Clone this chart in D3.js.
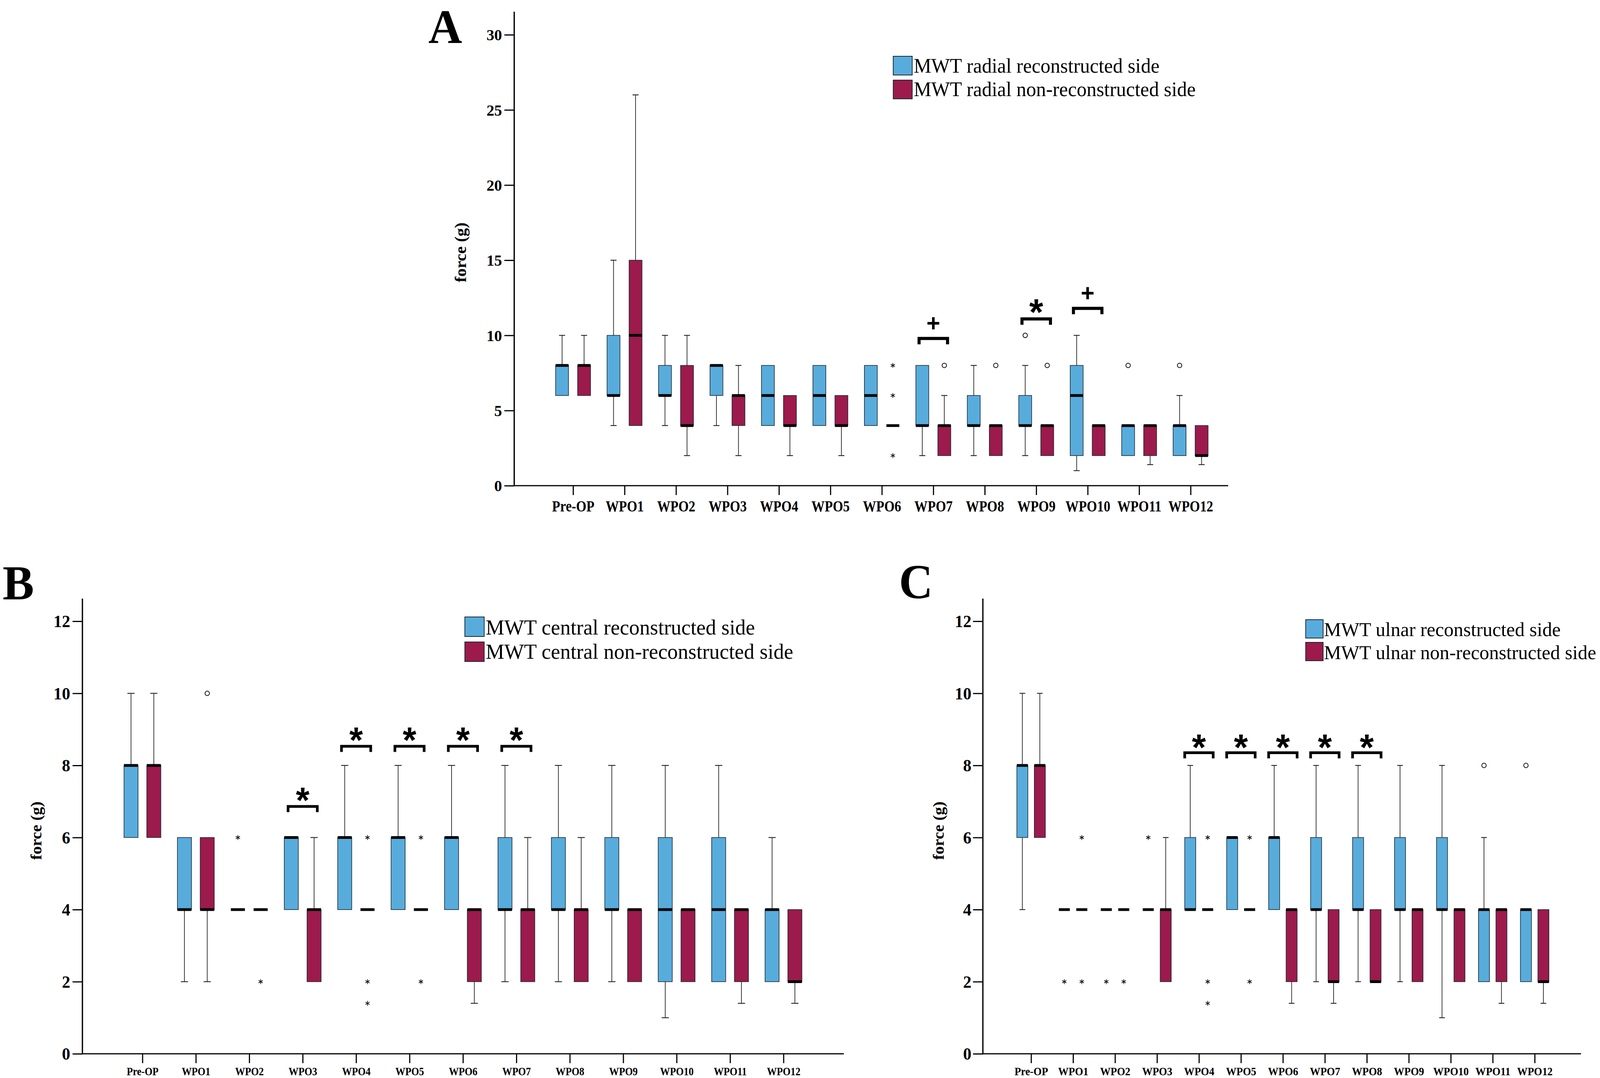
<!DOCTYPE html>
<html><head><meta charset="utf-8">
<script src="https://cdn.jsdelivr.net/npm/d3@7"></script>
<style>html,body{margin:0;padding:0;background:#fff;overflow:hidden;width:100%;height:100%}
#chart{display:block;width:100vw;height:100vh}</style>
</head><body>
<svg id="chart" viewBox="0 0 4213 2759" preserveAspectRatio="none" xmlns="http://www.w3.org/2000/svg"></svg>
<script>
// ---------------- DATA ----------------
const categories = ["Pre-OP","WPO1","WPO2","WPO3","WPO4","WPO5","WPO6","WPO7","WPO8","WPO9","WPO10","WPO11","WPO12"];
const yTicksA = [0,5,10,15,20,25,30];
const yTicksBC = [0,2,4,6,8,10,12];

// each entry: [lower whisker, Q1, median, Q3, upper whisker]
const radialReconstructed = [
  [6,6,8,8,10],[4,6,6,10,15],[4,6,6,8,10],[4,6,8,8,8],[4,4,6,8,8],[4,4,6,8,8],[4,4,6,8,8],
  [2,4,4,8,8],[2,4,4,6,8],[2,4,4,6,8],[1,2,6,8,10],[2,2,4,4,4],[2,2,4,4,6]];
const radialNonReconstructed = [
  [6,6,8,8,10],[4,4,10,15,26],[2,4,4,8,10],[2,4,6,6,8],[2,4,4,6,6],[2,4,4,6,6],[4,4,4,4,4],
  [2,2,4,4,6],[2,2,4,4,4],[2,2,4,4,4],[2,2,4,4,4],[1.4,2,4,4,4],[1.4,2,2,4,4]];
// series 0 = reconstructed, 1 = non-reconstructed
const radialOutliers = [
  {s:0,cat:"WPO9",v:10,t:"o"},{s:0,cat:"WPO11",v:8,t:"o"},{s:0,cat:"WPO12",v:8,t:"o"},
  {s:1,cat:"WPO7",v:8,t:"o"},{s:1,cat:"WPO8",v:8,t:"o"},{s:1,cat:"WPO9",v:8,t:"o"},
  {s:1,cat:"WPO6",v:8,t:"*"},{s:1,cat:"WPO6",v:6,t:"*"},{s:1,cat:"WPO6",v:2,t:"*"}];
const radialSignificance = [{cat:"WPO7",v:9.9,mark:"+"},{cat:"WPO9",v:11.2,mark:"*"},{cat:"WPO10",v:11.9,mark:"+"}];
const radialLegend = ["MWT radial reconstructed side","MWT radial non-reconstructed side"];

const centralReconstructed = [
  [6,6,8,8,10],[2,4,4,6,6],[4,4,4,4,4],[4,4,6,6,6],[4,4,6,6,8],[4,4,6,6,8],[4,4,6,6,8],
  [2,4,4,6,8],[2,4,4,6,8],[2,4,4,6,8],[1,2,4,6,8],[2,2,4,6,8],[2,2,4,4,6]];
const centralNonReconstructed = [
  [6,6,8,8,10],[2,4,4,6,6],[4,4,4,4,4],[2,2,4,4,6],[4,4,4,4,4],[4,4,4,4,4],[1.4,2,4,4,4],
  [2,2,4,4,6],[2,2,4,4,6],[2,2,4,4,4],[2,2,4,4,4],[1.4,2,4,4,4],[1.4,2,2,4,4]];
const centralOutliers = [
  {s:1,cat:"WPO1",v:10,t:"o"},
  {s:0,cat:"WPO2",v:6,t:"*"},{s:1,cat:"WPO2",v:2,t:"*"},
  {s:1,cat:"WPO4",v:6,t:"*"},{s:1,cat:"WPO4",v:2,t:"*"},{s:1,cat:"WPO4",v:1.4,t:"*"},
  {s:1,cat:"WPO5",v:6,t:"*"},{s:1,cat:"WPO5",v:2,t:"*"}];
const centralSignificance = [{cat:"WPO3",v:6.9,mark:"*"},{cat:"WPO4",v:8.57,mark:"*"},{cat:"WPO5",v:8.57,mark:"*"},
  {cat:"WPO6",v:8.57,mark:"*"},{cat:"WPO7",v:8.57,mark:"*"}];
const centralLegend = ["MWT central reconstructed side","MWT central non-reconstructed side"];

const ulnarReconstructed = [
  [4,6,8,8,10],[4,4,4,4,4],[4,4,4,4,4],[4,4,4,4,4],[4,4,4,6,8],[4,4,6,6,6],[4,4,6,6,8],
  [2,4,4,6,8],[2,4,4,6,8],[2,4,4,6,8],[1,4,4,6,8],[2,2,4,4,6],[2,2,4,4,4]];
const ulnarNonReconstructed = [
  [6,6,8,8,10],[4,4,4,4,4],[4,4,4,4,4],[2,2,4,4,6],[4,4,4,4,4],[4,4,4,4,4],[1.4,2,4,4,4],
  [1.4,2,2,4,4],[2,2,2,4,4],[2,2,4,4,4],[2,2,4,4,4],[1.4,2,4,4,4],[1.4,2,2,4,4]];
const ulnarOutliers = [
  {s:0,cat:"WPO1",v:2,t:"*"},{s:1,cat:"WPO1",v:6,t:"*"},{s:1,cat:"WPO1",v:2,t:"*"},
  {s:0,cat:"WPO2",v:2,t:"*"},{s:1,cat:"WPO2",v:2,t:"*"},{s:0,cat:"WPO3",v:6,t:"*"},
  {s:1,cat:"WPO4",v:6,t:"*"},{s:1,cat:"WPO4",v:2,t:"*"},{s:1,cat:"WPO4",v:1.4,t:"*"},
  {s:1,cat:"WPO5",v:6,t:"*"},{s:1,cat:"WPO5",v:2,t:"*"},
  {s:0,cat:"WPO11",v:8,t:"o"},{s:0,cat:"WPO12",v:8,t:"o"}];
const ulnarSignificance = [{cat:"WPO4",v:8.39,mark:"*"},{cat:"WPO5",v:8.39,mark:"*"},{cat:"WPO6",v:8.39,mark:"*"},
  {cat:"WPO7",v:8.39,mark:"*"},{cat:"WPO8",v:8.39,mark:"*"}];
const ulnarLegend = ["MWT ulnar reconstructed side","MWT ulnar non-reconstructed side"];

const yTitle = "force (g)";

// ---------------- STYLE / LAYOUT ----------------
const COLORS = ["#58acdc","#9c1a4c"];
const SERIF = "'Liberation Serif','Times New Roman',serif";
const SANS = "'Liberation Sans',Arial,sans-serif";

const panels = [
  {letter:"A", letterPos:[1128,110], letterFont:123, recon:radialReconstructed, non:radialNonReconstructed, outliers:radialOutliers,
   sig:radialSignificance, legendLabels:radialLegend, yTicks:yTicksA, yMax:30,
   axisX:1354, axisY:1243, yTopPx:89, axisTop:30, axisRight:3234, xRange:[1509,3135], off:29, bw:34, capW:16, medW:7,
   yTickFont:41, xTickFont:41, xCompress:0.85, xLabelBase:66, yLabelPad:32, yTitlePos:[1214,646], yTitleFont:43,
   legend:{x:2352, y:[144,205], sw:50, sh:48, tx:2406, base:[186,246], font:52},
   bracket:{half:41.5, legs:19, stroke:8, gap:36}, starFont:95, plusFont:62},
  {letter:"B", letterPos:[7,1534], letterFont:124, recon:centralReconstructed, non:centralNonReconstructed, outliers:centralOutliers,
   sig:centralSignificance, legendLabels:centralLegend, yTicks:yTicksBC, yMax:12,
   axisX:217, axisY:2697, yTopPx:1590, axisTop:1532, axisRight:2222, xRange:[375,2063], off:30, bw:37, capW:19, medW:7,
   yTickFont:44, xTickFont:29, xCompress:0.9, xLabelBase:55, yLabelPad:32, yTitlePos:[96,2126], yTitleFont:42,
   legend:{x:1224, y:[1579,1643], sw:51, sh:50, tx:1279, base:[1624,1686], font:55},
   bracket:{half:42, legs:18, stroke:7, gap:34}, starFont:92, plusFont:62},
  {letter:"C", letterPos:[2367,1531], letterFont:124, recon:ulnarReconstructed, non:ulnarNonReconstructed, outliers:ulnarOutliers,
   sig:ulnarSignificance, legendLabels:ulnarLegend, yTicks:yTicksBC, yMax:12,
   axisX:2588, axisY:2697, yTopPx:1590, axisTop:1532, axisRight:4163, xRange:[2715,4041], off:23, bw:29, capW:15, medW:7,
   yTickFont:44, xTickFont:30, xCompress:0.92, xLabelBase:55, yLabelPad:30, yTitlePos:[2472,2126], yTitleFont:42,
   legend:{x:3438, y:[1586,1644], sw:46, sh:47, tx:3486, base:[1628,1687], font:51},
   bracket:{half:41, legs:18, stroke:7, gap:33}, starFont:95, plusFont:62}
];

const svg = d3.select("#chart");
svg.append("rect").attr("width",4213).attr("height",2759).attr("fill","#fff");

function drawPanel(p){
  const g = svg.append("g");
  const x = d3.scalePoint().domain(categories).range(p.xRange);
  const y = d3.scaleLinear().domain([0,p.yMax]).range([p.axisY,p.yTopPx]);

  // panel letter
  g.append("text").attr("x",p.letterPos[0]).attr("y",p.letterPos[1])
    .attr("font-family",SERIF).attr("font-weight","bold").attr("font-size",p.letterFont).text(p.letter);

  // y axis
  const ya = g.append("g").attr("transform",`translate(${p.axisX},0)`)
    .call(d3.axisLeft(y).tickValues(p.yTicks).tickSize(26).tickPadding(p.yLabelPad-26).tickFormat(d3.format("d")));
  ya.select(".domain").remove();
  ya.selectAll(".tick line").attr("stroke","#000").attr("stroke-width",3);
  ya.selectAll(".tick text").attr("font-family",SERIF).attr("font-weight","bold")
    .attr("font-size",p.yTickFont).attr("fill","#000").attr("dy","0.34em");
  g.append("line").attr("x1",p.axisX).attr("x2",p.axisX).attr("y1",p.axisTop).attr("y2",p.axisY+1.5)
    .attr("stroke","#000").attr("stroke-width",3.4);

  // x axis
  const xa = g.append("g").attr("transform",`translate(0,${p.axisY})`)
    .call(d3.axisBottom(x).tickSize(24));
  xa.select(".domain").remove();
  xa.selectAll(".tick line").attr("stroke","#000").attr("stroke-width",3);
  xa.selectAll(".tick text").attr("font-family",SERIF).attr("font-weight","bold")
    .attr("font-size",p.xTickFont).attr("fill","#000").attr("y",p.xLabelBase).attr("dy",0)
    .attr("transform",`scale(${p.xCompress},1)`);
  g.append("line").attr("x1",p.axisX).attr("x2",p.axisRight).attr("y1",p.axisY).attr("y2",p.axisY)
    .attr("stroke","#000").attr("stroke-width",3);

  // y title
  g.append("text").attr("transform",`translate(${p.yTitlePos[0]},${p.yTitlePos[1]}) rotate(-90)`)
    .attr("text-anchor","middle").attr("dy","0.3em")
    .attr("font-family",SERIF).attr("font-weight","bold").attr("font-size",p.yTitleFont).text(yTitle);

  // boxes
  const seriesList = [p.recon, p.non];
  seriesList.forEach((ser, si) => {
    const dx = (si===0 ? -1 : 1) * p.off;
    const rows = ser.map((d,i)=>({cat:categories[i], lo:d[0], q1:d[1], med:d[2], q3:d[3], hi:d[4]}));
    const bg = g.append("g");
    rows.forEach(r => {
      const cx = x(r.cat) + dx;
      if (r.lo < r.q1) {
        bg.append("line").attr("x1",cx).attr("x2",cx).attr("y1",y(r.q1)).attr("y2",y(r.lo))
          .attr("stroke","#222").attr("stroke-width",1.8);
        bg.append("line").attr("x1",cx-p.capW/2).attr("x2",cx+p.capW/2).attr("y1",y(r.lo)).attr("y2",y(r.lo))
          .attr("stroke","#222").attr("stroke-width",2.2);
      }
      if (r.hi > r.q3) {
        bg.append("line").attr("x1",cx).attr("x2",cx).attr("y1",y(r.q3)).attr("y2",y(r.hi))
          .attr("stroke","#222").attr("stroke-width",1.8);
        bg.append("line").attr("x1",cx-p.capW/2).attr("x2",cx+p.capW/2).attr("y1",y(r.hi)).attr("y2",y(r.hi))
          .attr("stroke","#222").attr("stroke-width",2.2);
      }
      if (r.q3 > r.q1) {
        bg.append("rect").attr("x",cx-p.bw/2).attr("y",y(r.q3)).attr("width",p.bw).attr("height",y(r.q1)-y(r.q3))
          .attr("fill",COLORS[si]).attr("stroke","#1a2a33").attr("stroke-width",1.6);
      }
      bg.append("line").attr("x1",cx-p.bw/2).attr("x2",cx+p.bw/2).attr("y1",y(r.med)).attr("y2",y(r.med))
        .attr("stroke","#000").attr("stroke-width",p.medW);
    });
  });

  // outliers
  p.outliers.forEach(o => {
    const cx = x(o.cat) + (o.s===0 ? -1 : 1) * p.off;
    if (o.t === "o") {
      g.append("circle").attr("cx",cx).attr("cy",y(o.v)).attr("r",5.8)
        .attr("fill","#fff").attr("stroke","#111").attr("stroke-width",2);
    } else {
      g.append("path").attr("transform",`translate(${cx},${y(o.v)})`)
        .attr("d",d3.symbol(d3.symbolAsterisk,110)()).attr("fill","none")
        .attr("stroke","#111").attr("stroke-width",1.8);
    }
  });

  // significance brackets
  p.sig.forEach(s => {
    const cx = x(s.cat), top = y(s.v), b = p.bracket, h = b.stroke/2;
    g.append("path")
      .attr("d",`M${cx-b.half+h},${top+b.legs} L${cx-b.half+h},${top+h} L${cx+b.half-h},${top+h} L${cx+b.half-h},${top+b.legs}`)
      .attr("fill","none").attr("stroke","#000").attr("stroke-width",b.stroke).attr("stroke-linejoin","miter");
    const cy = top - b.gap;
    if (s.mark === "*") {
      g.append("text").attr("x",cx).attr("y",cy + 0.58*p.starFont).attr("text-anchor","middle")
        .attr("font-family",SANS).attr("font-weight","bold").attr("font-size",p.starFont).text("*");
    } else {
      g.append("text").attr("x",cx).attr("y",cy + 0.35*p.plusFont).attr("text-anchor","middle")
        .attr("font-family",SANS).attr("font-weight","bold").attr("font-size",p.plusFont).text("+");
    }
  });

  // legend
  const L = p.legend;
  p.legendLabels.forEach((lab,i) => {
    g.append("rect").attr("x",L.x).attr("y",L.y[i]).attr("width",L.sw).attr("height",L.sh)
      .attr("fill",COLORS[i]).attr("stroke","#1a2a33").attr("stroke-width",2);
    g.append("text").attr("x",L.tx).attr("y",L.base[i]).attr("font-family",SERIF)
      .attr("font-size",L.font).attr("fill","#000").text(lab);
  });
}

panels.forEach(drawPanel);
</script>
</body></html>
